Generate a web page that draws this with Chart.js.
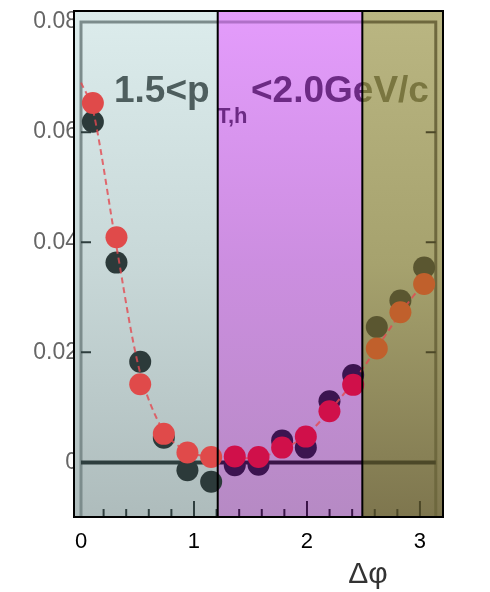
<!DOCTYPE html>
<html>
<head>
<meta charset="utf-8">
<script src="https://cdn.jsdelivr.net/npm/chart.js@4.4.1/dist/chart.umd.min.js"></script>
<style>
  html, body { margin: 0; padding: 0; background: #fff; }
</style>
</head>
<body>
<canvas id="chartDphi" width="490" height="592"></canvas>
<script>
/* valores */
const dphi = [0.105, 0.314, 0.524, 0.733, 0.942, 1.152, 1.361, 1.571, 1.780, 1.990, 2.199, 2.409, 2.618, 2.827, 3.037];
const redYield = [0.0653, 0.0409, 0.0142, 0.0052, 0.0018, 0.0010, 0.0011, 0.0010, 0.0027, 0.0047, 0.0093, 0.0141, 0.0207, 0.0273, 0.0324];
const darkYield = [0.0619, 0.0363, 0.0183, 0.0045, -0.0014, -0.0035, -0.0005, -0.0004, 0.0040, 0.0027, 0.0111, 0.0159, 0.0246, 0.0294, 0.0354];
const fitX = [0.0, 0.105, 0.314, 0.524, 0.733, 0.942, 1.152, 1.361, 1.571, 1.780, 1.990, 2.199, 2.409, 2.618, 2.827, 3.037];
const fitY = [0.069, 0.0642, 0.0392, 0.0162, 0.0056, 0.0020, 0.0010, 0.0008, 0.0009, 0.0024, 0.0049, 0.0094, 0.0146, 0.0208, 0.0271, 0.0328];
const xTicks = [0, 1, 2, 3];
const yTicks = [0, 0.02, 0.04, 0.06, 0.08];
const yTickLabels = ['0', '0.02', '0.04', '0.06', '0.08'];

/* bandas de color */
const bandEdges = [1.21, 2.49];
const bands = [
  { top: '#dcecec', mid: '#c8d8d8', bottom: '#aebcbc', frame: '#7c8c8c', ink: '#2e3e3e', text: '#4e5e5e', red: '#e04a4a', dark: '#2c3a3a' },
  { top: '#e49cfc', mid: '#cc8ee0', bottom: '#b68ac4', frame: '#b070c8', ink: '#3a1448', text: '#6c2a84', red: '#d0104a', dark: '#3c1450' },
  { top: '#bab682', mid: '#a6a26e', bottom: '#7e764e', frame: '#6e683e', ink: '#4c4828', text: '#7a7640', red: '#c0602c', dark: '#5a5630' },
];

const bandOf = (v) => (v < bandEdges[0] ? 0 : v < bandEdges[1] ? 1 : 2);
const toPoints = (xs, ys) => xs.map((v, i) => ({ x: v, y: ys[i] }));

// dibuja fn recortado a cada banda
function eachBand(chart, fn) {
  const { ctx, chartArea: a, scales: { x } } = chart;
  const edges = [a.left, ...bandEdges.map((v) => x.getPixelForValue(v)), a.right];
  for (let i = 0; i < 3; i++) {
    ctx.save();
    ctx.beginPath();
    ctx.rect(edges[i], 0, edges[i + 1] - edges[i], chart.height);
    ctx.clip();
    fn(ctx, bands[i]);
    ctx.restore();
  }
}

const backdrop = {
  id: 'backdrop',
  beforeDatasetsDraw(chart) {
    const { chartArea: a, scales: { x, y } } = chart;
    const x0 = x.getPixelForValue(0);
    const x1 = x.getPixelForValue(3.14);
    const yTop = y.getPixelForValue(0.08);
    const yZero = y.getPixelForValue(0);

    eachBand(chart, (ctx, b) => {
      let g = ctx.createLinearGradient(0, a.top, 0, a.bottom);
      g.addColorStop(0, b.top);
      g.addColorStop(0.5, b.mid);
      g.addColorStop(1, b.bottom);
      ctx.fillStyle = g;
      ctx.fillRect(a.left, a.top, a.right - a.left, a.bottom - a.top);

      // marco interior
      ctx.strokeStyle = b.frame;
      ctx.lineWidth = 3;
      ctx.beginPath();
      ctx.moveTo(x0, a.bottom);
      ctx.lineTo(x0, yTop);
      ctx.lineTo(x1, yTop);
      ctx.lineTo(x1, a.bottom);
      ctx.stroke();

      // ticks
      ctx.strokeStyle = b.ink;
      ctx.lineWidth = 2;
      ctx.beginPath();
      yTicks.slice(1, 4).forEach((v) => {
        let py = y.getPixelForValue(v);
        ctx.moveTo(x0, py); ctx.lineTo(x0 + 10, py);
        ctx.moveTo(x1, py); ctx.lineTo(x1 - 10, py);
      });
      for (let k = 1; k <= 15; k++) {
        let px = x.getPixelForValue(k * 0.2);
        ctx.moveTo(px, a.bottom);
        ctx.lineTo(px, a.bottom - (k % 5 === 0 ? 16 : 8));
      }
      ctx.stroke();

      // linea en cero
      ctx.strokeStyle = b.ink;
      ctx.lineWidth = 4;
      ctx.beginPath();
      ctx.moveTo(x0, yZero);
      ctx.lineTo(x1, yZero);
      ctx.stroke();

      // titulo
      ctx.fillStyle = b.text;
      ctx.textBaseline = 'alphabetic';
      ctx.font = 'bold 37px "Liberation Sans", Arial, sans-serif';
      ctx.fillText('1.5<p', 114, 102);
      ctx.fillText('<2.0GeV/c', 251, 102);
      ctx.font = 'bold 22px "Liberation Sans", Arial, sans-serif';
      ctx.fillText('T,h', 217, 123);
    });
  },
  afterDraw(chart) {
    const { ctx, chartArea: a, scales: { x } } = chart;
    ctx.save();
    ctx.strokeStyle = '#000';
    ctx.lineWidth = 2;
    ctx.beginPath();
    bandEdges.forEach((v) => {
      let px = x.getPixelForValue(v);
      ctx.moveTo(px, a.top); ctx.lineTo(px, a.bottom);
    });
    ctx.rect(a.left, a.top, a.right - a.left, a.bottom - a.top);
    ctx.stroke();

    ctx.fillStyle = '#333';
    ctx.font = '30px "Liberation Sans", Arial, sans-serif';
    ctx.textAlign = 'center';
    ctx.textBaseline = 'alphabetic';
    ctx.fillText('\u0394\u03c6', x.getPixelForValue(2.54), 583);
    ctx.restore();
  },
};

const byBand = (key) => (c) => bands[bandOf(c.raw ? c.raw.x : 0)][key];

new Chart(document.getElementById('chartDphi').getContext('2d'), {
  type: 'scatter',
  plugins: [backdrop],
  data: {
    datasets: [
      {
        data: toPoints(dphi, darkYield),
        backgroundColor: byBand('dark'),
        borderWidth: 0,
        pointRadius: 11,
        order: 3,
      },
      {
        type: 'line',
        data: toPoints(fitX, fitY),
        borderColor: 'rgba(228, 72, 80, 0.8)',
        borderWidth: 2,
        borderDash: [6, 4],
        pointRadius: 0,
        tension: 0.3,
        fill: false,
        order: 2,
      },
      {
        data: toPoints(dphi, redYield),
        backgroundColor: byBand('red'),
        borderWidth: 0,
        pointRadius: 11,
        order: 1,
      },
    ],
  },
  options: {
    responsive: false,
    animation: false,
    layout: { padding: { top: 5, right: 47, left: 0, bottom: 0 } },
    plugins: { legend: { display: false }, tooltip: { enabled: false } },
    scales: {
      x: {
        type: 'linear',
        min: -0.062,
        max: 3.204,
        afterFit: (s) => { s.height = 75; },
        afterBuildTicks: (s) => { s.ticks = xTicks.map((v) => ({ value: v })); },
        grid: { display: false, drawTicks: false },
        border: { display: false },
        ticks: {
          padding: 12,
          color: '#000',
          font: { family: '"Liberation Sans", Arial, sans-serif', size: 22 },
          callback: (v) => String(v),
        },
      },
      y: {
        min: -0.0099,
        max: 0.082,
        afterFit: (s) => { s.width = 74; },
        afterBuildTicks: (s) => { s.ticks = yTicks.map((v) => ({ value: v })); },
        grid: { display: false, drawTicks: false },
        border: { display: false },
        ticks: {
          padding: -4,
          color: '#666',
          font: { family: '"Liberation Sans", Arial, sans-serif', size: 23 },
          callback: (v) => yTickLabels[yTicks.indexOf(v)],
        },
      },
    },
  },
});
</script>
</body>
</html>
